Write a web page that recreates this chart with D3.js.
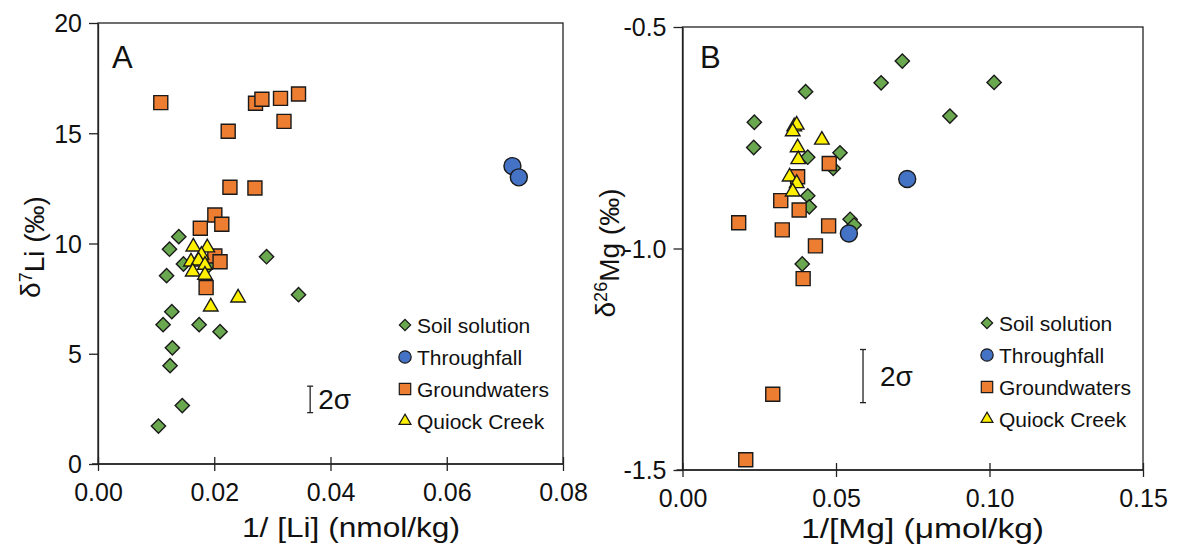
<!DOCTYPE html>
<html>
<head>
<meta charset="utf-8">
<script src="https://cdn.jsdelivr.net/npm/d3@7"></script>
<style>
  body { margin: 0; background: #fff; }
  svg text { font-family: "Liberation Sans", Arial, sans-serif; fill: #111; }
</style>
</head>
<body>
<svg id="chart" width="1181" height="560"></svg>
<script>
// ---- panel A: 1/[Li] (nmol/kg) vs d7Li (permil) ----
const liSoil = [
  [0.0139, 10.31], [0.0123, 9.74], [0.0147, 9.07], [0.0118, 8.54],
  [0.0190, 9.00], [0.0290, 9.40], [0.0345, 7.68], [0.0127, 6.91],
  [0.0112, 6.32], [0.0174, 6.32], [0.0210, 6.00], [0.0128, 5.27],
  [0.0124, 4.46], [0.0145, 2.65], [0.0104, 1.72]
];
const liThrough = [[0.0713, 13.51], [0.0724, 13.00]];
const liGround = [
  [0.0108, 16.39], [0.0271, 16.36], [0.0282, 16.54], [0.0314, 16.58],
  [0.0345, 16.78], [0.0320, 15.54], [0.0224, 15.09], [0.0227, 12.55],
  [0.0270, 12.52], [0.0201, 11.29], [0.0213, 10.87], [0.0176, 10.69],
  [0.0201, 9.43], [0.0210, 9.17], [0.0186, 8.00]
];
const liCreek = [
  [0.0164, 9.85], [0.0188, 9.81], [0.0178, 9.48], [0.0160, 9.17],
  [0.0173, 9.22], [0.0184, 9.02], [0.0163, 8.72], [0.0184, 8.57],
  [0.0194, 7.13], [0.0241, 7.54]
];

// ---- panel B: 1/[Mg] (umol/kg) vs d26Mg (permil) ----
const mgSoil = [
  [0.0401, -0.646], [0.0234, -0.715], [0.0232, -0.772], [0.0647, -0.626],
  [0.0716, -0.577], [0.1015, -0.625], [0.0871, -0.701], [0.0408, -0.794],
  [0.0513, -0.784], [0.0491, -0.819], [0.0408, -0.881], [0.0413, -0.906],
  [0.0546, -0.934], [0.0559, -0.947], [0.0390, -1.035]
];
const mgThrough = [[0.0732, -0.843], [0.0542, -0.966]];
const mgGround = [
  [0.0478, -0.808], [0.0375, -0.838], [0.0320, -0.892], [0.0380, -0.913],
  [0.0183, -0.942], [0.0325, -0.958], [0.0476, -0.949], [0.0433, -0.994],
  [0.0393, -1.068], [0.0294, -1.329], [0.0206, -1.477]
];
const mgCreek = [
  [0.0364, -0.725], [0.0372, -0.721], [0.0359, -0.736], [0.0454, -0.755],
  [0.0375, -0.772], [0.0377, -0.799], [0.0349, -0.838], [0.0372, -0.853],
  [0.0359, -0.872]
];

const seriesNames = ["Soil solution", "Throughfall", "Groundwaters", "Quiock Creek"];
const liTicksX = [0, 0.02, 0.04, 0.06, 0.08];
const liTicksY = [0, 5, 10, 15, 20];
const mgTicksX = [0, 0.05, 0.10, 0.15];
const mgTicksY = [-1.5, -1.0, -0.5];

// marker look per series (same order as seriesNames)
const markers = [
  { type: d3.symbolSquare, rotate: 45, fill: "#6aa84f", size: 102, legend: 64 },
  { type: d3.symbolCircle, rotate: 0, fill: "#4472c4", size: 227, legend: 120 },
  { type: d3.symbolSquare, rotate: 0, fill: "#ed7d31", size: 196, legend: 130 },
  { type: d3.symbolTriangle, rotate: 0, fill: "#fff000", size: 92, legend: 62 }
];

const svg = d3.select("#chart");

function Panel(params) {
  const attrs = Object.assign(
    {
      series: [],
      xDomain: [0, 1],
      yDomain: [0, 1],
      xRange: [0, 100],
      yRange: [100, 0],
      xTicks: [],
      yTicks: [],
      xFormat: (v) => v.toFixed(2),
      yFormat: (v) => String(v),
      letter: "",
      letterPos: [0, 0],
      xTitle: "",
      xTitlePos: [0, 0],
      xTitleLength: null,
      yTitle: [], // [text, superscript, text]
      yTitlePos: [0, 0],
      legendPos: [0, 0],
      sigma: null // {x, y, half} in data units
    },
    params
  );

  const x = d3.scaleLinear().domain(attrs.xDomain).range(attrs.xRange);
  const y = d3.scaleLinear().domain(attrs.yDomain).range(attrs.yRange);
  const g = svg.append("g");

  // frame
  g.append("rect")
    .attr("x", attrs.xRange[0])
    .attr("y", attrs.yRange[1])
    .attr("width", attrs.xRange[1] - attrs.xRange[0])
    .attr("height", attrs.yRange[0] - attrs.yRange[1])
    .attr("fill", "none")
    .attr("stroke", "#222")
    .attr("stroke-width", 1.3);

  // x axis, ticks crossing the line
  const xAxis = g.append("g")
    .attr("transform", `translate(0,${attrs.yRange[0]})`)
    .call(d3.axisBottom(x).tickValues(attrs.xTicks).tickFormat(attrs.xFormat).tickSizeOuter(0));
  xAxis.select(".domain").attr("stroke", "#222").attr("stroke-width", 1.3)
    .attr("d", `M${attrs.xRange[0] - 6},0H${attrs.xRange[1]}`);
  xAxis.selectAll(".tick line").attr("y1", -7).attr("y2", 7).attr("stroke", "#222").attr("stroke-width", 1.3);
  xAxis.selectAll(".tick text").attr("y", 37).attr("dy", 0)
    .style("font-size", "25px").style("font-family", "Liberation Sans, Arial, sans-serif").attr("fill", "#111");

  // y axis, ticks outside
  const yAxis = g.append("g")
    .attr("transform", `translate(${attrs.xRange[0]},0)`)
    .call(d3.axisLeft(y).tickValues(attrs.yTicks).tickFormat(attrs.yFormat).tickSize(9).tickSizeOuter(0));
  yAxis.select(".domain").attr("stroke", "#222").attr("stroke-width", 1.3);
  yAxis.selectAll(".tick line").attr("stroke", "#222").attr("stroke-width", 1.3);
  yAxis.selectAll(".tick text").attr("x", -16).attr("dy", "0.35em")
    .style("font-size", "25px").style("font-family", "Liberation Sans, Arial, sans-serif").attr("fill", "#111");

  // points, series drawn in order so creek sits on top
  attrs.series.forEach((data, i) => {
    const m = markers[i];
    g.append("g")
      .selectAll("path")
      .data(data)
      .join("path")
      .attr("d", d3.symbol().type(m.type).size(m.size))
      .attr("transform", (d) => `translate(${x(d[0])},${y(d[1])}) rotate(${m.rotate})`)
      .attr("fill", m.fill)
      .attr("stroke", "#1a1a1a")
      .attr("stroke-width", 1.4);
  });

  // panel letter
  g.append("text")
    .attr("x", attrs.letterPos[0])
    .attr("y", attrs.letterPos[1])
    .style("font-size", "31px")
    .text(attrs.letter);

  // x title
  const xt = g.append("text")
    .attr("x", attrs.xTitlePos[0])
    .attr("y", attrs.xTitlePos[1])
    .style("font-size", "28px")
    .text(attrs.xTitle);
  if (attrs.xTitleLength) {
    xt.attr("textLength", attrs.xTitleLength).attr("lengthAdjust", "spacingAndGlyphs");
  }

  // y title with superscript
  const yt = g.append("text")
    .attr("transform", `translate(${attrs.yTitlePos[0]},${attrs.yTitlePos[1]}) rotate(-90)`)
    .attr("text-anchor", "middle")
    .attr("dy", "0.35em")
    .style("font-size", "28px");
  yt.append("tspan").text(attrs.yTitle[0]);
  yt.append("tspan").attr("dy", "-0.45em").style("font-size", "18px").text(attrs.yTitle[1]);
  yt.append("tspan").attr("dy", "0.45em").text(attrs.yTitle[2]);

  // legend
  const lg = g.append("g").attr("transform", `translate(${attrs.legendPos[0]},${attrs.legendPos[1]})`);
  seriesNames.forEach((name, i) => {
    const m = markers[i];
    lg.append("path")
      .attr("d", d3.symbol().type(m.type).size(m.legend))
      .attr("transform", `translate(0,${i * 32}) rotate(${m.rotate})`)
      .attr("fill", m.fill)
      .attr("stroke", "#1a1a1a")
      .attr("stroke-width", 1.2);
    lg.append("text")
      .attr("x", 12)
      .attr("y", i * 32)
      .attr("dy", "0.36em")
      .style("font-size", "21px")
      .text(name);
  });

  // 2 sigma bar
  if (attrs.sigma) {
    const s = attrs.sigma;
    const sx = x(s.x), y0 = y(s.y - s.half), y1 = y(s.y + s.half);
    const bar = g.append("g").attr("stroke", "#222").attr("stroke-width", 1.3);
    bar.append("line").attr("x1", sx).attr("x2", sx).attr("y1", y0).attr("y2", y1);
    bar.append("line").attr("x1", sx - 3).attr("x2", sx + 3).attr("y1", y0).attr("y2", y0);
    bar.append("line").attr("x1", sx - 3).attr("x2", sx + 3).attr("y1", y1).attr("y2", y1);
    g.append("text")
      .attr("x", sx + s.gap)
      .attr("y", (y0 + y1) / 2)
      .attr("dy", "0.36em")
      .style("font-size", "28px")
      .text("2σ");
  }

  return g;
}

Panel({
  series: [liSoil, liThrough, liGround, liCreek],
  xDomain: [0, 0.08],
  yDomain: [0, 20],
  xRange: [98, 563],
  yRange: [464, 23],
  xTicks: liTicksX,
  yTicks: liTicksY,
  xFormat: (v) => v.toFixed(2),
  yFormat: (v) => String(v),
  letter: "A",
  letterPos: [112, 68],
  xTitle: "1/ [Li] (nmol/kg)",
  xTitlePos: [242, 537],
  xTitleLength: 218,
  yTitle: ["δ", "7", "Li (‰)"],
  yTitlePos: [30, 247],
  legendPos: [405, 325],
  sigma: { x: 0.0365, y: 2.93, half: 0.6, gap: 8 }
});

Panel({
  series: [mgSoil, mgThrough, mgGround, mgCreek],
  xDomain: [0, 0.15],
  yDomain: [-1.5, -0.5],
  xRange: [682.5, 1143],
  yRange: [470, 27],
  xTicks: mgTicksX,
  yTicks: mgTicksY,
  xFormat: (v) => v.toFixed(2),
  yFormat: (v) => v.toFixed(1),
  letter: "B",
  letterPos: [700, 68],
  xTitle: "1/[Mg] (μmol/kg)",
  xTitlePos: [801, 538],
  xTitleLength: 243,
  yTitle: ["δ", "26", "Mg (‰)"],
  yTitlePos: [605, 253],
  legendPos: [987, 323],
  sigma: { x: 0.0588, y: -1.288, half: 0.06, gap: 17 }
});
</script>
</body>
</html>
